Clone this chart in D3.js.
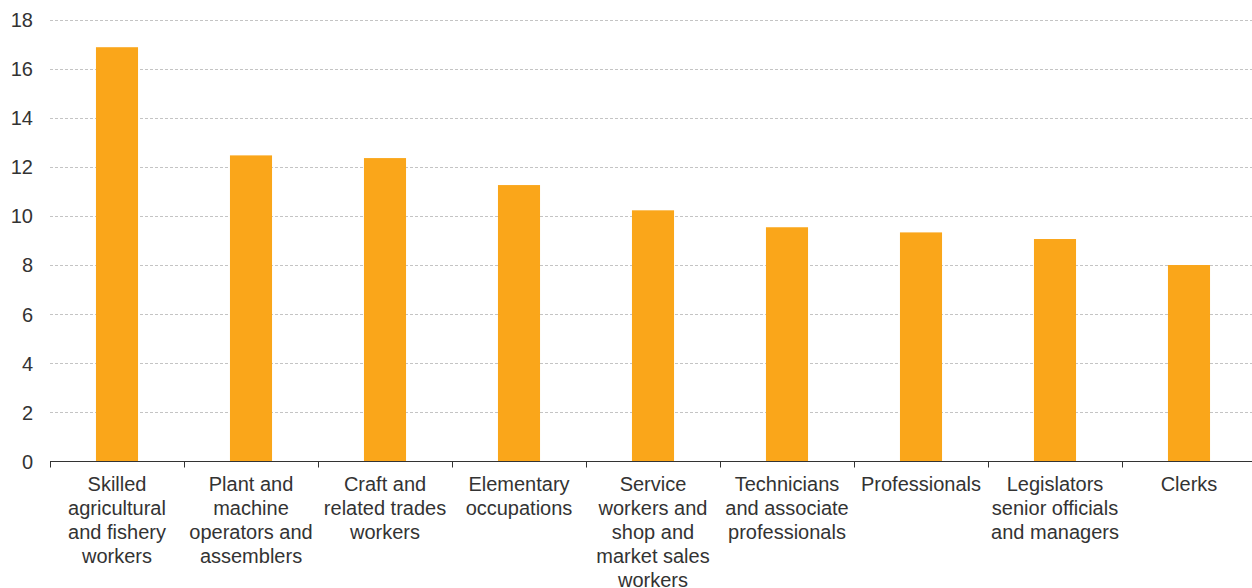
<!DOCTYPE html>
<html>
<head>
<meta charset="utf-8">
<script src="https://cdn.jsdelivr.net/npm/d3@7/dist/d3.min.js"></script>
<style>
  html, body { margin: 0; padding: 0; background: #fff; }
  svg { display: block; font-family: "Liberation Sans", Arial, sans-serif; }
</style>
</head>
<body>
<svg id="chart" width="1252" height="588"></svg>
<script>
// Occupation groups (x-axis), one label line per array entry
const categories = [
  "Skilled agricultural and fishery workers",
  "Plant and machine operators and assemblers",
  "Craft and related trades workers",
  "Elementary occupations",
  "Service workers and shop and market sales workers",
  "Technicians and associate professionals",
  "Professionals",
  "Legislators senior officials and managers",
  "Clerks"
];
const categoryLines = [
  ["Skilled", "agricultural", "and fishery", "workers"],
  ["Plant and", "machine", "operators and", "assemblers"],
  ["Craft and", "related trades", "workers"],
  ["Elementary", "occupations"],
  ["Service", "workers and", "shop and", "market sales", "workers"],
  ["Technicians", "and associate", "professionals"],
  ["Professionals"],
  ["Legislators", "senior officials", "and managers"],
  ["Clerks"]
];
const values = [16.87, 12.46, 12.35, 11.25, 10.22, 9.53, 9.32, 9.05, 7.99];
const yTicks = [0, 2, 4, 6, 8, 10, 12, 14, 16, 18];

const svg = d3.select("#chart");
const plotLeft = 50, plotRight = 1256, plotTop = 19.5, plotBottom = 461;

const x = d3.scaleBand().domain(categories).range([plotLeft, plotRight]).padding(0);
const y = d3.scaleLinear().domain([0, 18]).range([plotBottom, plotTop]);

const barFrac = 0.314;
const barW = x.bandwidth() * barFrac;

// Horizontal dashed gridlines
svg.append("g")
  .selectAll("line")
  .data(yTicks.filter(d => d > 0))
  .join("line")
  .attr("x1", plotLeft).attr("x2", 1252)
  .attr("y1", d => Math.round(y(d)) + 0.5)
  .attr("y2", d => Math.round(y(d)) + 0.5)
  .attr("stroke", "#c4c4c4")
  .attr("stroke-width", 1)
  .attr("stroke-dasharray", "3,2");

// Y-axis labels (no axis line)
const yAxis = d3.axisLeft(y).tickValues(yTicks).tickSize(0).tickPadding(0);
const gy = svg.append("g").attr("transform", `translate(33,0)`).call(yAxis);
gy.select(".domain").remove();
gy.selectAll("text")
  .attr("font-size", 20)
  .attr("fill", "#333")
  .attr("font-family", "Liberation Sans, Arial, sans-serif")
  .attr("dy", "0.36em");

// Bars
svg.append("g")
  .selectAll("rect")
  .data(values)
  .join("rect")
  .attr("x", (d, i) => x(categories[i]) + (x.bandwidth() - barW) / 2)
  .attr("y", d => y(d))
  .attr("width", barW)
  .attr("height", d => y(0) - y(d))
  .attr("fill", "#faa61a");

// X axis with ticks at band boundaries
const gx = svg.append("g").attr("transform", `translate(0,${plotBottom + 0.5})`);
gx.append("line")
  .attr("x1", plotLeft).attr("x2", 1252)
  .attr("stroke", "#333").attr("stroke-width", 1);
gx.selectAll("line.tick")
  .data(categories)
  .join("line")
  .attr("class", "tick")
  .attr("x1", d => Math.round(x(d)) + 0.5)
  .attr("x2", d => Math.round(x(d)) + 0.5)
  .attr("y1", 0).attr("y2", 6)
  .attr("stroke", "#333");

// Category labels, wrapped
const labels = svg.append("g")
  .selectAll("text")
  .data(categories)
  .join("text")
  .attr("text-anchor", "middle")
  .attr("font-size", 20)
  .attr("fill", "#333")
  .attr("transform", d => `translate(${x(d) + x.bandwidth() / 2},491)`);
labels.selectAll("tspan")
  .data((d, i) => categoryLines[i])
  .join("tspan")
  .attr("x", 0)
  .attr("y", (d, j) => j * 24)
  .text(d => d);
</script>
</body>
</html>
